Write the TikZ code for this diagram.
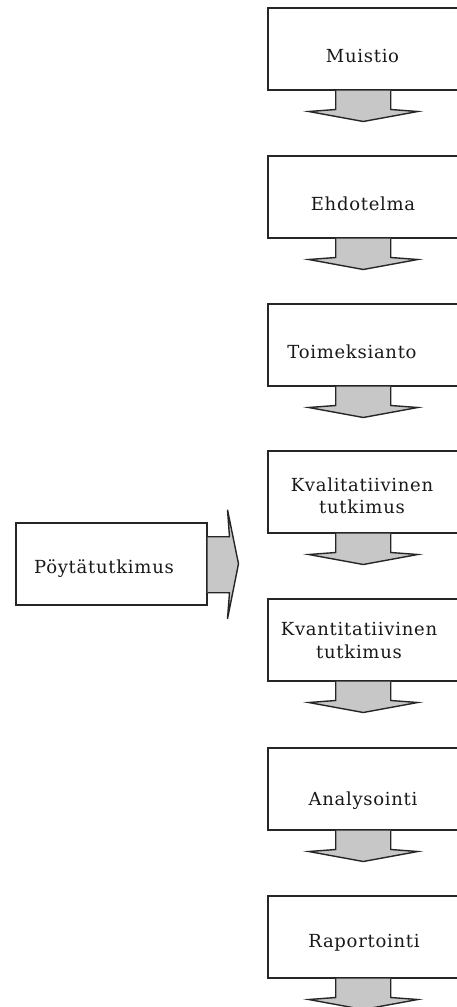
\documentclass[tikz,border=0pt]{standalone}
\usepackage{fontspec}
\setmainfont{DejaVu Serif}[LetterSpace=4]
\begin{document}
\begin{tikzpicture}[x=1pt,y=-1pt,
  box/.style={draw=black!85, line width=1.5pt, fill=white, minimum width=191pt, minimum height=82pt, inner sep=0pt, anchor=north west},
  wbox/.style={box, minimum width=196pt},
  lbl/.style={inner sep=0pt, font=\fontsize{18}{22}\selectfont, text=black!90, align=center},
  arr/.style={draw=black!85, line width=1.4pt, fill=black!22, line join=miter},
  downarrow/.pic={\path[arr] (-27.5,0) -- (-27.5,19) -- (-54.5,21) -- (0,31) -- (54.5,21) -- (27.5,19) -- (27.5,0);},
  rightarrow/.pic={\path[arr] (0,-27) -- (22,-27) -- (20,-54) -- (31,0) -- (20,55) -- (22,29) -- (0,29);}
]
\useasboundingbox (0,0) rectangle (456,1007);
% main column
\node[wbox] (b1) at (267,7) {};
\node[wbox] (b2) at (267,155) {};
\node[wbox] (b3) at (267,303) {};
\node[wbox] (b4) at (267,450) {};
\node[wbox] (b5) at (267,598) {};
\node[wbox] (b6) at (267,747) {};
\node[wbox] (b7) at (267,895) {};
\node[box] (p) at (15,522) {};
% labels
\node[lbl, anchor=base] (t1) at (362.5,62) {Muistio};
\node[lbl, anchor=base] (t2) at (363,210) {Ehdotelma};
\node[lbl, anchor=base] (t3) at (352,358) {Toimeksianto};
\node[lbl, anchor=base] (t4a) at (362,491) {Kvalitatiivinen};
\node[lbl, anchor=base] (t4b) at (362,513) {tutkimus};
\node[lbl, anchor=base] (t5a) at (359,635) {Kvantitatiivinen};
\node[lbl, anchor=base] (t5b) at (359,658) {tutkimus};
\node[lbl, anchor=base] (t6) at (363,805) {Analysointi};
\node[lbl, anchor=base] (t7) at (364,947) {Raportointi};
\node[lbl, anchor=base] (tp) at (104,573) {Pöytätutkimus};
% arrows
\path ([xshift=-2.5pt]b1.south) pic {downarrow};
\path ([xshift=-2.5pt]b2.south) pic {downarrow};
\path ([xshift=-2.5pt]b3.south) pic {downarrow};
\path ([xshift=-2.5pt]b4.south) pic {downarrow};
\path ([xshift=-2.5pt]b5.south) pic {downarrow};
\path ([xshift=-2.5pt]b6.south) pic {downarrow};
\path ([xshift=-2.5pt]b7.south) pic {downarrow};
\path (p.east) pic {rightarrow};
\end{tikzpicture}
\end{document}
